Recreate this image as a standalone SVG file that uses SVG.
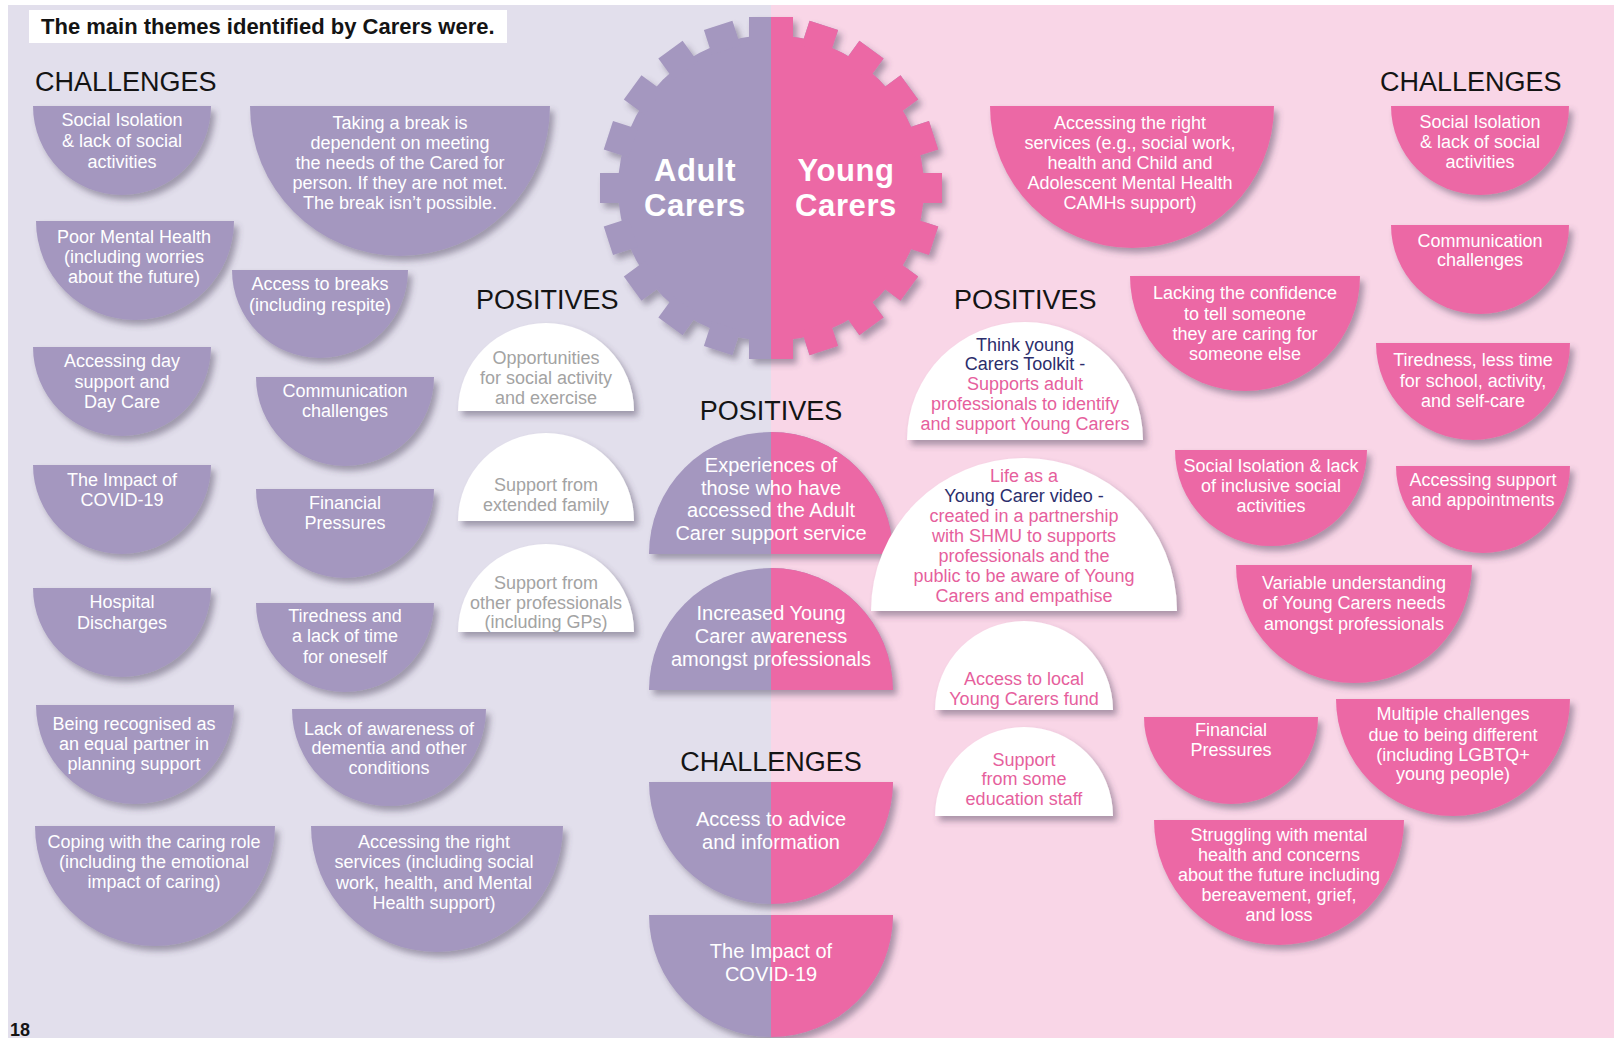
<svg xmlns="http://www.w3.org/2000/svg" xmlns:xlink="http://www.w3.org/1999/xlink" width="1614" height="1038" viewBox="0 0 1614 1038">
<style>
.pu{fill:#a497bf}
.pk{fill:#ec68a5}
.wh{fill:#ffffff}
text{font-family:"Liberation Sans",Arial,sans-serif}
.t{font-size:18px;fill:#ffffff;text-anchor:middle}
.tc{font-size:20px;fill:#ffffff;text-anchor:middle}
.g{font-size:18px;fill:#a3a3a3;text-anchor:middle}
.p{font-size:18px;fill:#e65f9d;text-anchor:middle}
.n{font-size:18px;fill:#2c2e6c;text-anchor:middle}
.h{font-size:27px;fill:#141414}
.hc{font-size:27px;fill:#141414;text-anchor:middle}
.gear{font-size:31px;font-weight:bold;fill:#ffffff;text-anchor:middle;letter-spacing:0.6px}
</style>
<defs>
<filter id="sh" x="-15%" y="-15%" width="135%" height="140%">
<feDropShadow dx="4" dy="5" stdDeviation="3" flood-color="#4a3f5c" flood-opacity="0.45"/>
</filter>
<clipPath id="R" clipPathUnits="userSpaceOnUse"><rect x="771" y="0" width="843" height="1038"/></clipPath>
<g id="gearShape">
<circle cx="771" cy="188" r="153"/>
<g transform="translate(771 188)">
<rect x="-22" y="-171" width="44" height="26"/>
<rect x="-15" y="-171" width="30" height="26" transform="rotate(18)"/>
<rect x="-15" y="-171" width="30" height="26" transform="rotate(36)"/>
<rect x="-15" y="-171" width="30" height="26" transform="rotate(54)"/>
<rect x="-15" y="-171" width="30" height="26" transform="rotate(72)"/>
<rect x="-15" y="-171" width="30" height="26" transform="rotate(90)"/>
<rect x="-15" y="-171" width="30" height="26" transform="rotate(108)"/>
<rect x="-15" y="-171" width="30" height="26" transform="rotate(126)"/>
<rect x="-15" y="-171" width="30" height="26" transform="rotate(144)"/>
<rect x="-15" y="-171" width="30" height="26" transform="rotate(162)"/>
<rect x="-22" y="-171" width="44" height="26" transform="rotate(180)"/>
<rect x="-15" y="-171" width="30" height="26" transform="rotate(198)"/>
<rect x="-15" y="-171" width="30" height="26" transform="rotate(216)"/>
<rect x="-15" y="-171" width="30" height="26" transform="rotate(234)"/>
<rect x="-15" y="-171" width="30" height="26" transform="rotate(252)"/>
<rect x="-15" y="-171" width="30" height="26" transform="rotate(270)"/>
<rect x="-15" y="-171" width="30" height="26" transform="rotate(288)"/>
<rect x="-15" y="-171" width="30" height="26" transform="rotate(306)"/>
<rect x="-15" y="-171" width="30" height="26" transform="rotate(324)"/>
<rect x="-15" y="-171" width="30" height="26" transform="rotate(342)"/>
</g>
</g>
</defs>

<rect x="0" y="0" width="1614" height="1038" fill="#ffffff"/>
<rect x="8" y="5" width="763" height="1033" fill="#e2dfec"/>
<rect x="771" y="5" width="843" height="1033" fill="#f9d6e7"/>

<g id="title">
<rect x="29" y="10" width="478" height="33" fill="#ffffff"/>
<text x="41" y="34" style="font-size:22px;font-weight:bold;fill:#141414">The main themes identified by Carers were.</text>
</g>

<g id="headings">
<text class="h" x="35" y="91">CHALLENGES</text>
<text class="h" x="1380" y="91">CHALLENGES</text>
<text class="h" x="476" y="309">POSITIVES</text>
<text class="h" x="954" y="309">POSITIVES</text>
<text class="hc" x="771" y="420">POSITIVES</text>
<text class="hc" x="771" y="771">CHALLENGES</text>
</g>

<g id="gear">
<g filter="url(#sh)">
<use xlink:href="#gearShape" href="#gearShape" fill="#a497bf"/>
<g clip-path="url(#R)"><use xlink:href="#gearShape" href="#gearShape" fill="#ec68a5"/></g>
</g>
<text class="gear" x="695" y="181">Adult</text>
<text class="gear" x="695" y="216">Carers</text>
<text class="gear" x="846" y="181">Young</text>
<text class="gear" x="846" y="216">Carers</text>
</g>

<g id="connectors"></g>

<!-- Adult carers challenges -->
<g id="a1"><path class="pu" filter="url(#sh)" d="M33 106 A89 89 0 0 0 211 106Z"/>
<text class="t"><tspan x="122" y="126">Social Isolation</tspan><tspan x="122" y="147">&amp; lack of social</tspan><tspan x="122" y="168">activities</tspan></text></g>
<g id="a2"><path class="pu" filter="url(#sh)" d="M250 106 A150 150 0 0 0 550 106Z"/>
<text class="t"><tspan x="400" y="129">Taking a break is</tspan><tspan x="400" y="149">dependent on meeting</tspan><tspan x="400" y="169">the needs of the Cared for</tspan><tspan x="400" y="189">person. If they are not met.</tspan><tspan x="400" y="209">The break isn’t possible.</tspan></text></g>
<g id="a3"><path class="pu" filter="url(#sh)" d="M36 221 A99 99 0 0 0 234 221Z"/>
<text class="t"><tspan x="134" y="243">Poor Mental Health</tspan><tspan x="134" y="263">(including worries</tspan><tspan x="134" y="283">about the future)</tspan></text></g>
<g id="a4"><path class="pu" filter="url(#sh)" d="M232 270 A88 88 0 0 0 408 270Z"/>
<text class="t"><tspan x="320" y="290">Access to breaks</tspan><tspan x="320" y="311">(including respite)</tspan></text></g>
<g id="a5"><path class="pu" filter="url(#sh)" d="M33 347 A89 89 0 0 0 211 347Z"/>
<text class="t"><tspan x="122" y="367">Accessing day</tspan><tspan x="122" y="388">support and</tspan><tspan x="122" y="408">Day Care</tspan></text></g>
<g id="a6"><path class="pu" filter="url(#sh)" d="M256 377 A89 89 0 0 0 434 377Z"/>
<text class="t"><tspan x="345" y="397">Communication</tspan><tspan x="345" y="417">challenges</tspan></text></g>
<g id="a7"><path class="pu" filter="url(#sh)" d="M33 465 A89 89 0 0 0 211 465Z"/>
<text class="t"><tspan x="122" y="486">The Impact of</tspan><tspan x="122" y="506">COVID-19</tspan></text></g>
<g id="a8"><path class="pu" filter="url(#sh)" d="M256 489 A89 89 0 0 0 434 489Z"/>
<text class="t"><tspan x="345" y="509">Financial</tspan><tspan x="345" y="529">Pressures</tspan></text></g>
<g id="a9"><path class="pu" filter="url(#sh)" d="M33 588 A89 89 0 0 0 211 588Z"/>
<text class="t"><tspan x="122" y="608">Hospital</tspan><tspan x="122" y="629">Discharges</tspan></text></g>
<g id="a10"><path class="pu" filter="url(#sh)" d="M256 603 A89 89 0 0 0 434 603Z"/>
<text class="t"><tspan x="345" y="622">Tiredness and</tspan><tspan x="345" y="642">a lack of time</tspan><tspan x="345" y="663">for oneself</tspan></text></g>
<g id="a11"><path class="pu" filter="url(#sh)" d="M36 705 A99 99 0 0 0 234 705Z"/>
<text class="t"><tspan x="134" y="730">Being recognised as</tspan><tspan x="134" y="750">an equal partner in</tspan><tspan x="134" y="770">planning support</tspan></text></g>
<g id="a12"><path class="pu" filter="url(#sh)" d="M292 709 A97 97 0 0 0 486 709Z"/>
<text class="t"><tspan x="389" y="735">Lack of awareness of</tspan><tspan x="389" y="754">dementia and other</tspan><tspan x="389" y="774">conditions</tspan></text></g>
<g id="a13"><path class="pu" filter="url(#sh)" d="M35 826 A120 120 0 0 0 275 826Z"/>
<text class="t"><tspan x="154" y="848">Coping with the caring role</tspan><tspan x="154" y="868">(including the emotional</tspan><tspan x="154" y="888">impact of caring)</tspan></text></g>
<g id="a14"><path class="pu" filter="url(#sh)" d="M311 826 A126 126 0 0 0 563 826Z"/>
<text class="t"><tspan x="434" y="848">Accessing the right</tspan><tspan x="434" y="868">services (including social</tspan><tspan x="434" y="889">work, health, and Mental</tspan><tspan x="434" y="909">Health support)</tspan></text></g>

<!-- Adult carers positives -->
<g id="b1"><path class="wh" filter="url(#sh)" d="M458 411 A88 88 0 0 1 634 411Z"/>
<text class="g"><tspan x="546" y="364">Opportunities</tspan><tspan x="546" y="384">for social activity</tspan><tspan x="546" y="404">and exercise</tspan></text></g>
<g id="b2"><path class="wh" filter="url(#sh)" d="M458 521 A88 88 0 0 1 634 521Z"/>
<text class="g"><tspan x="546" y="491">Support from</tspan><tspan x="546" y="511">extended family</tspan></text></g>
<g id="b3"><path class="wh" filter="url(#sh)" d="M458 632 A88 88 0 0 1 634 632Z"/>
<text class="g"><tspan x="546" y="589">Support from</tspan><tspan x="546" y="609">other professionals</tspan><tspan x="546" y="628">(including GPs)</tspan></text></g>

<!-- Shared -->
<g id="c1"><g filter="url(#sh)"><path class="pu" d="M649 554 A122 122 0 0 1 893 554Z"/><path class="pk" clip-path="url(#R)" d="M649 554 A122 122 0 0 1 893 554Z"/></g>
<text class="tc"><tspan x="771" y="472">Experiences of</tspan><tspan x="771" y="495">those who have</tspan><tspan x="771" y="517">accessed the Adult</tspan><tspan x="771" y="540">Carer support service</tspan></text></g>
<g id="c2"><g filter="url(#sh)"><path class="pu" d="M649 690 A122 122 0 0 1 893 690Z"/><path class="pk" clip-path="url(#R)" d="M649 690 A122 122 0 0 1 893 690Z"/></g>
<text class="tc"><tspan x="771" y="620">Increased Young</tspan><tspan x="771" y="643">Carer awareness</tspan><tspan x="771" y="666">amongst professionals</tspan></text></g>
<g id="c3"><g filter="url(#sh)"><path class="pu" d="M649 782 A122 122 0 0 0 893 782Z"/><path class="pk" clip-path="url(#R)" d="M649 782 A122 122 0 0 0 893 782Z"/></g>
<text class="tc"><tspan x="771" y="826">Access to advice</tspan><tspan x="771" y="849">and information</tspan></text></g>
<g id="c4"><g filter="url(#sh)"><path class="pu" d="M649 915 A122 122 0 0 0 893 915Z"/><path class="pk" clip-path="url(#R)" d="M649 915 A122 122 0 0 0 893 915Z"/></g>
<text class="tc"><tspan x="771" y="958">The Impact of</tspan><tspan x="771" y="981">COVID-19</tspan></text></g>

<!-- Young carers positives -->
<g id="d1"><path class="wh" filter="url(#sh)" d="M907 440 A118 118 0 0 1 1143 440Z"/>
<text><tspan class="n" x="1025" y="351">Think young</tspan><tspan class="n" x="1025" y="370">Carers Toolkit -</tspan><tspan class="p" x="1025" y="390">Supports adult</tspan><tspan class="p" x="1025" y="410">professionals to identify</tspan><tspan class="p" x="1025" y="430">and support Young Carers</tspan></text></g>
<g id="d2"><path class="wh" filter="url(#sh)" d="M871 611 A153 153 0 0 1 1177 611Z"/>
<text><tspan class="p" x="1024" y="482">Life as a</tspan><tspan class="n" x="1024" y="502">Young Carer video -</tspan><tspan class="p" x="1024" y="522">created in a partnership</tspan><tspan class="p" x="1024" y="542">with SHMU to supports</tspan><tspan class="p" x="1024" y="562">professionals and the</tspan><tspan class="p" x="1024" y="582">public to be aware of Young</tspan><tspan class="p" x="1024" y="602">Carers and empathise</tspan></text></g>
<g id="d3"><path class="wh" filter="url(#sh)" d="M935 710 A89 89 0 0 1 1113 710Z"/>
<text class="p"><tspan x="1024" y="685">Access to local</tspan><tspan x="1024" y="705">Young Carers fund</tspan></text></g>
<g id="d4"><path class="wh" filter="url(#sh)" d="M935 816 A89 89 0 0 1 1113 816Z"/>
<text class="p"><tspan x="1024" y="766">Support</tspan><tspan x="1024" y="785">from some</tspan><tspan x="1024" y="805">education staff</tspan></text></g>

<!-- Young carers challenges -->
<g id="e1"><path class="pk" filter="url(#sh)" d="M990 106 A142 142 0 0 0 1274 106Z"/>
<text class="t"><tspan x="1130" y="129">Accessing the right</tspan><tspan x="1130" y="149">services (e.g., social work,</tspan><tspan x="1130" y="169">health and Child and</tspan><tspan x="1130" y="189">Adolescent Mental Health</tspan><tspan x="1130" y="209">CAMHs support)</tspan></text></g>
<g id="e2"><path class="pk" filter="url(#sh)" d="M1391 106 A89 89 0 0 0 1569 106Z"/>
<text class="t"><tspan x="1480" y="128">Social Isolation</tspan><tspan x="1480" y="148">&amp; lack of social</tspan><tspan x="1480" y="168">activities</tspan></text></g>
<g id="e3"><path class="pk" filter="url(#sh)" d="M1391 225 A89 89 0 0 0 1569 225Z"/>
<text class="t"><tspan x="1480" y="247">Communication</tspan><tspan x="1480" y="266">challenges</tspan></text></g>
<g id="e4"><path class="pk" filter="url(#sh)" d="M1130 276 A115 115 0 0 0 1360 276Z"/>
<text class="t"><tspan x="1245" y="299">Lacking the confidence</tspan><tspan x="1245" y="320">to tell someone</tspan><tspan x="1245" y="340">they are caring for</tspan><tspan x="1245" y="360">someone else</tspan></text></g>
<g id="e5"><path class="pk" filter="url(#sh)" d="M1376 343 A97 97 0 0 0 1570 343Z"/>
<text class="t"><tspan x="1473" y="366">Tiredness, less time</tspan><tspan x="1473" y="387">for school, activity,</tspan><tspan x="1473" y="407">and self-care</tspan></text></g>
<g id="e6"><path class="pk" filter="url(#sh)" d="M1175 450 A96 96 0 0 0 1367 450Z"/>
<text class="t"><tspan x="1271" y="472">Social Isolation &amp; lack</tspan><tspan x="1271" y="492">of inclusive social</tspan><tspan x="1271" y="512">activities</tspan></text></g>
<g id="e7"><path class="pk" filter="url(#sh)" d="M1396 466 A87 87 0 0 0 1570 466Z"/>
<text class="t"><tspan x="1483" y="486">Accessing support</tspan><tspan x="1483" y="506">and appointments</tspan></text></g>
<g id="e8"><path class="pk" filter="url(#sh)" d="M1236 565 A118 118 0 0 0 1472 565Z"/>
<text class="t"><tspan x="1354" y="589">Variable understanding</tspan><tspan x="1354" y="609">of Young Carers needs</tspan><tspan x="1354" y="630">amongst professionals</tspan></text></g>
<g id="e9"><path class="pk" filter="url(#sh)" d="M1144 717 A87 87 0 0 0 1318 717Z"/>
<text class="t"><tspan x="1231" y="736">Financial</tspan><tspan x="1231" y="756">Pressures</tspan></text></g>
<g id="e10"><path class="pk" filter="url(#sh)" d="M1336 699 A117 117 0 0 0 1570 699Z"/>
<text class="t"><tspan x="1453" y="720">Multiple challenges</tspan><tspan x="1453" y="741">due to being different</tspan><tspan x="1453" y="761">(including LGBTQ+</tspan><tspan x="1453" y="780">young people)</tspan></text></g>
<g id="e11"><path class="pk" filter="url(#sh)" d="M1154 820 A125 125 0 0 0 1404 820Z"/>
<text class="t"><tspan x="1279" y="841">Struggling with mental</tspan><tspan x="1279" y="861">health and concerns</tspan><tspan x="1279" y="881">about the future including</tspan><tspan x="1279" y="901">bereavement, grief,</tspan><tspan x="1279" y="921">and loss</tspan></text></g>

<g id="page-number"><text x="10" y="1036" style="font-size:18px;font-weight:bold;fill:#141414">18</text></g>
</svg>
